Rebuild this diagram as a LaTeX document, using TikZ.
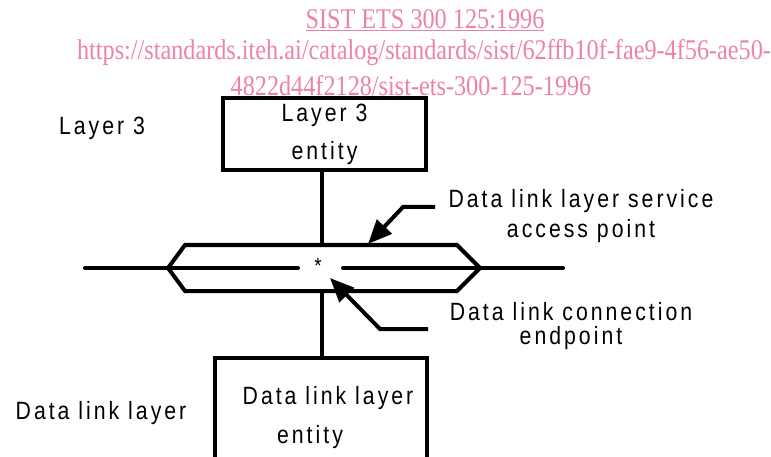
\documentclass[tikz,border=0pt]{standalone}
\usepackage{fontspec}
\setmainfont{Liberation Sans}[FakeStretch=0.85, LetterSpace=12]
\newfontfamily\wmfont{Liberation Serif}[FakeStretch=0.85]
\usetikzlibrary{arrows.meta}
\definecolor{wmpink}{RGB}{238,130,165}
\begin{document}
\begin{tikzpicture}[x=1pt,y=-1pt,
  thick line/.style={line width=4pt, line cap=round, line join=miter},
  boxstyle/.style={draw, line width=4pt, inner sep=0pt},
  lbl/.style={inner sep=0pt, font=\fontsize{25}{30}\selectfont},
  wm/.style={inner sep=0pt, text=wmpink, font=\wmfont\fontsize{28.5}{30}\selectfont},
  arr/.style={line width=4pt, line join=miter, -{Triangle[length=24pt,width=20pt]}}]
\useasboundingbox (0,0) rectangle (771,457);
\clip (0,0) rectangle (771,457);
% boxes
\node[boxstyle, minimum width=203pt, minimum height=72pt, align=center,
      font=\fontsize{25}{38}\selectfont] (l3) at (324.5,134) {Layer 3\\entity};
\node[boxstyle, minimum width=212pt, minimum height=120pt] (dl) at (321,418) {};
\node[lbl] (dlt1) at (328,398) {Data link layer};
\node[lbl] (dlt2) at (310,437) {entity};
% side labels
\node[lbl] (sl3) at (102,128) {Layer 3};
\node[lbl] (sdl) at (101,413) {Data link layer};
% SAP shape
\coordinate (pl) at (168,268);
\coordinate (pr) at (480,268);
\coordinate (tl) at (185,245);
\coordinate (tr) at (457,245);
\coordinate (bl) at (185,291);
\coordinate (br) at (457,291);
\draw[thick line] (tl) -- (tr) -- (pr) -- (br) -- (bl) -- (pl) -- cycle;
\coordinate (ml) at (85,268);
\coordinate (mlm) at (298,268);
\coordinate (mrm) at (343,268);
\coordinate (mr) at (563,268);
\draw[thick line] (ml) -- (mlm);
\draw[thick line] (mrm) -- (mr);
\node[inner sep=0pt, font=\fontsize{22}{22}\selectfont] (star) at (318,266) {*};
% verticals
\coordinate (vt) at (322,245);
\coordinate (vb) at (322,291);
\draw[line width=4pt] (l3.south -| vt) -- (vt);
\draw[line width=4pt] (vb) -- (dl.north -| vb);
% annotations
\node[lbl, align=center, font=\fontsize{25}{30}\selectfont] (sapt) at (581,216) {Data link layer service\\access point};
\node[lbl, align=center, font=\fontsize{25}{24}\selectfont] (cet) at (571,326) {Data link connection\\endpoint};
\coordinate (sapa) at (435,207);
\coordinate (sapb) at (403,207);
\coordinate (sapc) at (368,244);
\draw[arr] (sapa) -- (sapb) -- (sapc);
\coordinate (cea) at (428,329);
\coordinate (ceb) at (380,329);
\coordinate (cec) at (330,278);
\draw[arr] (cea) -- (ceb) -- (cec);
% watermark
\node[wm] (w1) at (425,20) {\underline{SIST ETS 300 125:1996}};
\node[wm] (w2) at (424,53) {https://standards.iteh.ai/catalog/standards/sist/62ffb10f-fae9-4f56-ae50-};
\node[wm] (w3) at (411,86) {4822d44f2128/sist-ets-300-125-1996};
\end{tikzpicture}
\end{document}
